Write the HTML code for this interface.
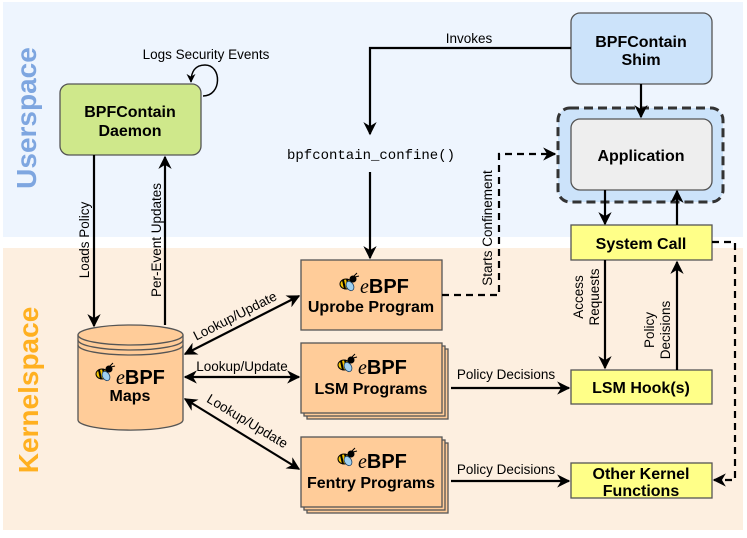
<!DOCTYPE html>
<html><head><meta charset="utf-8"><style>
body{margin:0;width:747px;height:533px;overflow:hidden;background:#fff}
svg{font-family:"Liberation Sans",sans-serif}
</style></head><body>
<svg width="747" height="533" viewBox="0 0 747 533" xmlns="http://www.w3.org/2000/svg">
<defs>
<marker id="a" viewBox="0 0 10 10" refX="9" refY="5" markerWidth="6" markerHeight="6" orient="auto-start-reverse"><path d="M0,0 L10,5 L0,10 L3,5z" fill="#000"/></marker>
<g id="bee">
<ellipse cx="6" cy="8" rx="6" ry="5" fill="#f5c400" stroke="#000" stroke-width="1"/>
<path d="M3,4 L5,13 M7,3 L9,12" stroke="#000" stroke-width="2"/>
<ellipse cx="10" cy="10" rx="3.5" ry="5" fill="#9fd0f0" stroke="#246" stroke-width="0.8" transform="rotate(-30 10 10)"/>
<circle cx="13" cy="3" r="3.5" fill="#000"/>
<path d="M14,0 L17,-3 M15,1 L19,0" stroke="#000" stroke-width="1"/>
</g>
</defs>
<rect x="3" y="2" width="740" height="235" fill="#eef5fe"/>
<rect x="3" y="248" width="740" height="282" fill="#fdefe0"/>
<text transform="translate(36,118) rotate(-90)" text-anchor="middle" font-size="28" font-weight="bold" fill="#7ea6e0">Userspace</text>
<text transform="translate(38,390) rotate(-90)" text-anchor="middle" font-size="28" font-weight="bold" fill="#ffb020">Kernelspace</text>

<rect x="60" y="84" width="141" height="71" rx="9" fill="#cfe88b" stroke="#555" stroke-width="1.3"/>
<text x="130" y="117" text-anchor="middle" font-size="16" font-weight="bold">BPFContain</text>
<text x="130" y="136" text-anchor="middle" font-size="16" font-weight="bold">Daemon</text>
<path d="M203,96 C222,96 222,65 205,65 C195,65 191,72 191,82" fill="none" stroke="#000" stroke-width="1.5" marker-end="url(#a)"/>
<text x="206" y="59" text-anchor="middle" font-size="13.5">Logs Security Events</text>

<rect x="571" y="13" width="141" height="71" rx="9" fill="#cce3fa" stroke="#555" stroke-width="1.3"/>
<text x="641" y="47" text-anchor="middle" font-size="16" font-weight="bold">BPFContain</text>
<text x="641" y="65" text-anchor="middle" font-size="16" font-weight="bold">Shim</text>

<rect x="558" y="108" width="165" height="94" rx="12" fill="#cce3fa" stroke="#333" stroke-width="3" stroke-dasharray="9,5"/>
<rect x="571" y="119" width="141" height="71" rx="9" fill="#eeeeee" stroke="#555" stroke-width="1.3"/>
<text x="641" y="161" text-anchor="middle" font-size="16" font-weight="bold">Application</text>

<rect x="571" y="225" width="141" height="35" fill="#ffff88" stroke="#555" stroke-width="1.3"/>
<text x="641" y="249" text-anchor="middle" font-size="16" font-weight="bold">System Call</text>
<rect x="571" y="370" width="141" height="34" fill="#ffff88" stroke="#555" stroke-width="1.3"/>
<text x="641" y="393" text-anchor="middle" font-size="16" font-weight="bold">LSM Hook(s)</text>
<rect x="571" y="463" width="141" height="35" fill="#ffff88" stroke="#555" stroke-width="1.3"/>
<text x="641" y="479" text-anchor="middle" font-size="16" font-weight="bold">Other Kernel</text>
<text x="641" y="496" text-anchor="middle" font-size="16" font-weight="bold">Functions</text>

<g fill="#ffcc99" stroke="#555" stroke-width="1.3">
<rect x="301" y="260" width="141" height="70"/>
<rect x="307" y="349" width="141" height="70"/><rect x="304" y="346" width="141" height="70"/><rect x="301" y="343" width="141" height="70"/>
<rect x="307" y="443" width="141" height="70"/><rect x="304" y="440" width="141" height="70"/><rect x="301" y="437" width="141" height="70"/>
</g>
<g font-weight="bold" font-size="16">
<use href="#bee" x="340" y="276"/><text x="360" y="293" font-size="20"><tspan style="font-style:italic;font-family:'Liberation Serif',serif;font-weight:normal">e</tspan>BPF</text>
<text x="371" y="312" text-anchor="middle">Uprobe Program</text>
<use href="#bee" x="338" y="357"/><text x="358" y="374" font-size="20"><tspan style="font-style:italic;font-family:'Liberation Serif',serif;font-weight:normal">e</tspan>BPF</text>
<text x="371" y="394" text-anchor="middle">LSM Programs</text>
<use href="#bee" x="338" y="451"/><text x="358" y="468" font-size="20"><tspan style="font-style:italic;font-family:'Liberation Serif',serif;font-weight:normal">e</tspan>BPF</text>
<text x="371" y="488" text-anchor="middle">Fentry Programs</text>
</g>

<path d="M78,335 L78,420 A52,10 0 0 0 183,420 L183,335" fill="#ffcc99" stroke="#555" stroke-width="1.3"/>
<ellipse cx="130.5" cy="335" rx="52.5" ry="10" fill="#ffcc99" stroke="#555" stroke-width="1.3"/>
<path d="M78,340 A52.5,10 0 0 0 183,340 M78,345 A52.5,10 0 0 0 183,345" fill="none" stroke="#555" stroke-width="1.3"/>
<use href="#bee" x="96" y="366"/><text x="116" y="384" font-size="20" font-weight="bold"><tspan style="font-style:italic;font-family:'Liberation Serif',serif;font-weight:normal">e</tspan>BPF</text>
<text x="130" y="401" text-anchor="middle" font-size="16" font-weight="bold">Maps</text>

<g fill="none" stroke="#000" stroke-width="2.2">
<path d="M94,155 L94,326" marker-end="url(#a)"/>
<path d="M165,325 L165,157" marker-end="url(#a)"/>
<path d="M571,48 L370,48 L370,134" marker-end="url(#a)"/>
<path d="M370,172 L370,258" marker-end="url(#a)"/>
<path d="M641,84 L641,117" marker-end="url(#a)"/>
<path d="M605,190 L605,224" marker-end="url(#a)"/>
<path d="M677,225 L677,191" marker-end="url(#a)"/>
<path d="M605,260 L605,368" marker-end="url(#a)"/>
<path d="M677,370 L677,262" marker-end="url(#a)"/>
<path d="M451,388 L569,388" marker-end="url(#a)"/>
<path d="M451,481 L569,481" marker-end="url(#a)"/>
<path d="M185,354 L299,296" marker-start="url(#a)" marker-end="url(#a)"/>
<path d="M185,377 L299,377" marker-start="url(#a)" marker-end="url(#a)"/>
<path d="M185,399 L299,469" marker-start="url(#a)" marker-end="url(#a)"/>
</g>
<g fill="none" stroke="#000" stroke-width="2.2" stroke-dasharray="7,5">
<path d="M442,295 L499,295 L499,154 L555,154" marker-end="url(#a)"/>
<path d="M712,242 L735,242 L735,480 L714,480" marker-end="url(#a)"/>
</g>

<g font-size="13.5">
<text x="469" y="43" text-anchor="middle">Invokes</text>
<text x="371" y="159" text-anchor="middle" style="font-family:'Liberation Mono',monospace;font-size:14px">bpfcontain_confine()</text>
<text transform="translate(89,240) rotate(-90)" text-anchor="middle">Loads Policy</text>
<text transform="translate(161,240) rotate(-90)" text-anchor="middle">Per-Event Updates</text>
<text transform="translate(492,228) rotate(-90)" text-anchor="middle">Starts Confinement</text>
<text transform="translate(583,297) rotate(-90)" text-anchor="middle">Access</text>
<text transform="translate(599,297) rotate(-90)" text-anchor="middle">Requests</text>
<text transform="translate(654,330) rotate(-90)" text-anchor="middle">Policy</text>
<text transform="translate(670,330) rotate(-90)" text-anchor="middle">Decisions</text>
<text x="506" y="379" text-anchor="middle">Policy Decisions</text>
<text x="506" y="474" text-anchor="middle">Policy Decisions</text>
<text transform="translate(237,320) rotate(-27)" text-anchor="middle">Lookup/Update</text>
<text x="242" y="371" text-anchor="middle">Lookup/Update</text>
<text transform="translate(245,425) rotate(31)" text-anchor="middle">Lookup/Update</text>
</g>
</svg>
</body></html>
